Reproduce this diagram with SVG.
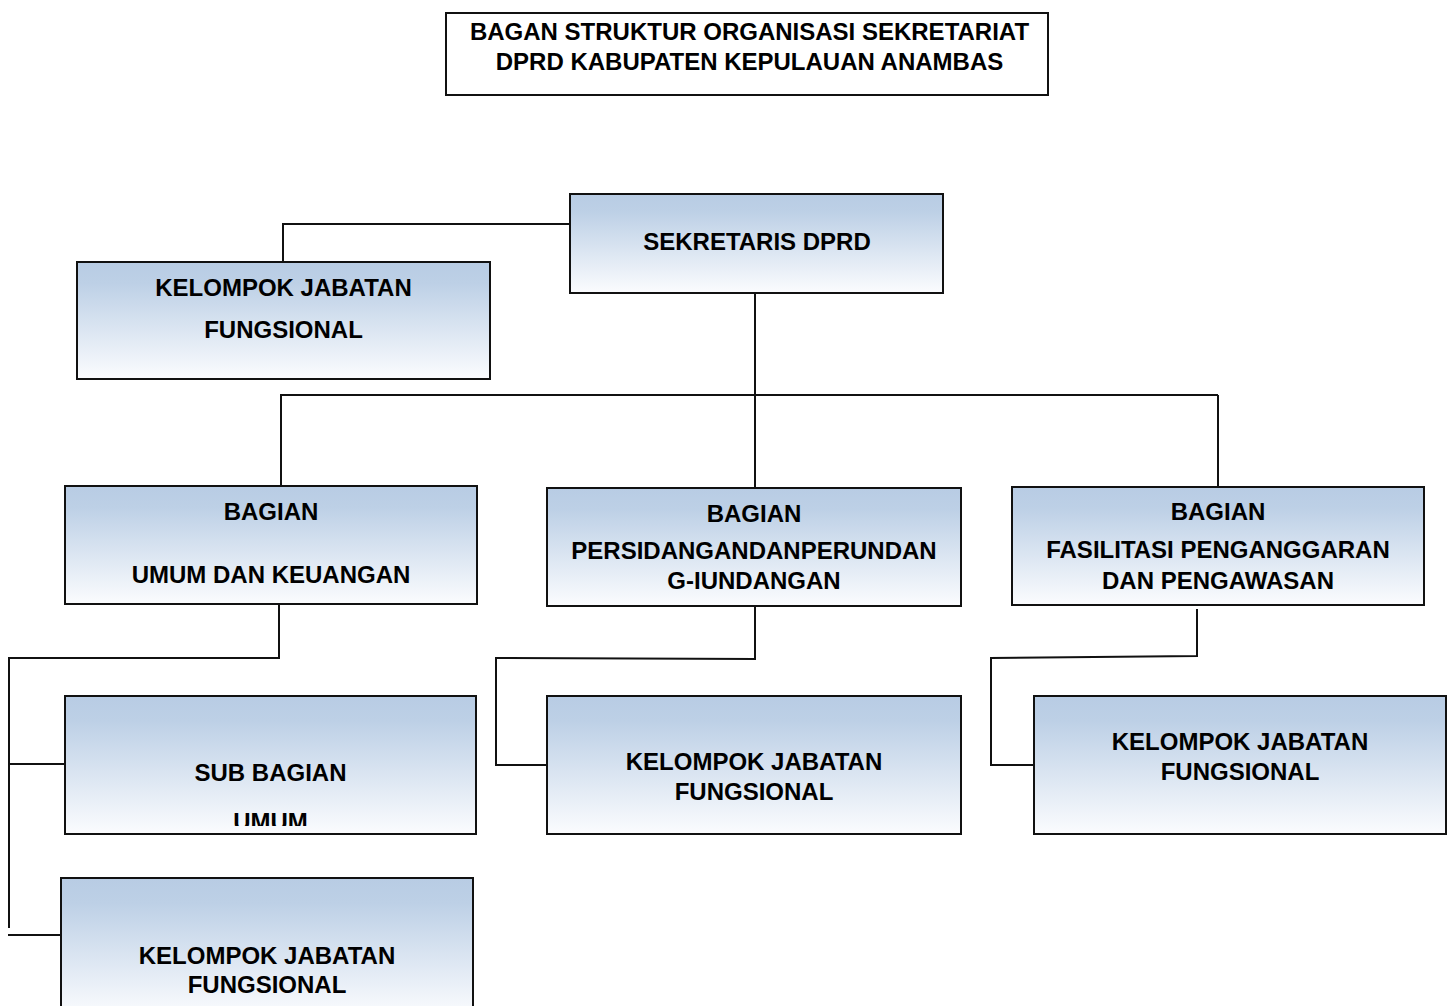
<svg xmlns="http://www.w3.org/2000/svg" width="1454" height="1006" viewBox="0 0 1454 1006">
<defs>
<linearGradient id="g" x1="0" y1="0" x2="0" y2="1">
<stop offset="0" stop-color="#b8cce4"/>
<stop offset="0.18" stop-color="#bdd0e6"/>
<stop offset="1" stop-color="#fbfcfe"/>
</linearGradient>
<clipPath id="clipUmum"><rect x="65" y="696" width="411" height="130"/></clipPath>
<style>
.box{fill:url(#g);stroke:#111;stroke-width:2}
.plain{fill:#fff;stroke:#111;stroke-width:2}
.t{font-family:"Liberation Sans",Arial,Helvetica,sans-serif;font-weight:bold;font-size:24px;fill:#000;text-anchor:middle}
.c{fill:none;stroke:#111;stroke-width:2}
</style>
</defs>
<rect width="1454" height="1006" fill="#fff"/>

<g id="connectors">
<polyline class="c" points="570,224 283,224 283,262"/>
<line class="c" x1="755" y1="293" x2="755" y2="488"/>
<line class="c" x1="280" y1="395" x2="1218" y2="395"/>
<line class="c" x1="281" y1="395" x2="281" y2="486"/>
<line class="c" x1="1218" y1="395" x2="1218" y2="487"/>
<polyline class="c" points="279,604 279,658 9,658 9,928"/>
<line class="c" x1="9" y1="764" x2="64" y2="764"/>
<line class="c" x1="8" y1="935" x2="61" y2="935"/>
<polyline class="c" points="755,606 755,659 496,658 496,765 547,765"/>
<polyline class="c" points="1197,609 1197,656 991,658 991,765 1034,765"/>
</g>

<g id="title">
<rect class="plain" x="446" y="13" width="602" height="82"/>
<text class="t" x="749.5" y="39.5">BAGAN STRUKTUR ORGANISASI SEKRETARIAT</text>
<text class="t" x="749.5" y="69.5">DPRD KABUPATEN KEPULAUAN ANAMBAS</text>
</g>

<g id="sekretaris">
<rect class="box" x="570" y="194" width="373" height="99"/>
<text class="t" x="757" y="249.5">SEKRETARIS DPRD</text>
</g>

<g id="kjf-top">
<rect class="box" x="77" y="262" width="413" height="117"/>
<text class="t" x="283.5" y="295.5">KELOMPOK JABATAN</text>
<text class="t" x="283.5" y="337.5">FUNGSIONAL</text>
</g>

<g id="bagian-umum">
<rect class="box" x="65" y="486" width="412" height="118"/>
<text class="t" x="271" y="519.5">BAGIAN</text>
<text class="t" x="271" y="582.5">UMUM DAN KEUANGAN</text>
</g>

<g id="bagian-persidangan">
<rect class="box" x="547" y="488" width="414" height="118"/>
<text class="t" x="754" y="521.5">BAGIAN</text>
<text class="t" x="754" y="558.5">PERSIDANGANDANPERUNDAN</text>
<text class="t" x="754" y="588.5">G-IUNDANGAN</text>
</g>

<g id="bagian-fasilitasi">
<rect class="box" x="1012" y="487" width="412" height="118"/>
<text class="t" x="1218" y="519.5">BAGIAN</text>
<text class="t" x="1218" y="557.5">FASILITASI PENGANGGARAN</text>
<text class="t" x="1218" y="588.5">DAN PENGAWASAN</text>
</g>

<g id="sub-bagian-umum">
<rect class="box" x="65" y="696" width="411" height="138"/>
<text class="t" x="270.5" y="780.5">SUB BAGIAN</text>
<text class="t" x="270.5" y="830" clip-path="url(#clipUmum)">UMUM</text>
</g>

<g id="kjf-bottom">
<rect class="box" x="61" y="878" width="412" height="138"/>
<text class="t" x="267" y="963.5">KELOMPOK JABATAN</text>
<text class="t" x="267" y="992.5">FUNGSIONAL</text>
</g>

<g id="kjf-mid">
<rect class="box" x="547" y="696" width="414" height="138"/>
<text class="t" x="754" y="769.5">KELOMPOK JABATAN</text>
<text class="t" x="754" y="799.5">FUNGSIONAL</text>
</g>

<g id="kjf-right">
<rect class="box" x="1034" y="696" width="412" height="138"/>
<text class="t" x="1240" y="749.5">KELOMPOK JABATAN</text>
<text class="t" x="1240" y="779.5">FUNGSIONAL</text>
</g>
</svg>
